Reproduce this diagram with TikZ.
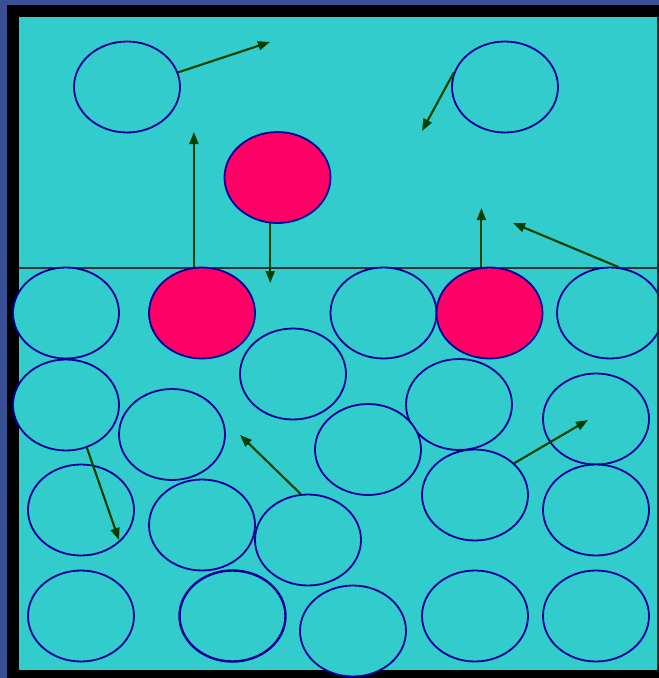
\documentclass[tikz,border=0pt]{standalone}
\usepackage{tikz}
\usetikzlibrary{arrows.meta, shapes.geometric, positioning}

\definecolor{backblue}{RGB}{58,80,148}
\definecolor{liquid}{RGB}{51,204,204}
\definecolor{hotred}{RGB}{255,0,102}
\definecolor{rimblue}{RGB}{0,0,153}
\definecolor{moveg}{RGB}{0,64,0}

\tikzset{
    particle/.style={ellipse, draw=rimblue, line width=1.8pt, fill=liquid,
        minimum width=106pt, minimum height=91pt, inner sep=0pt},
    fastparticle/.style={particle, fill=hotred},
    motion/.style={moveg, line width=2.1pt, -{Triangle[length=12pt,width=9pt]}}
}

\begin{document}
\begin{tikzpicture}[x=1pt, y=-1pt]
    % Background and frame
    \useasboundingbox (0,0) rectangle (659,678);
    \fill[backblue] (0,0) rectangle (659,678);
    \fill[black] (7,5) rectangle (659,678);
    \fill[liquid] (19,17) rectangle (657,670);

    % Surface of the liquid
    \draw[black!80, line width=1.6pt] (19,268) -- (657,268);

    % Particles above the surface
    \node[particle] (top1) at (127,87) {};
    \node[particle] (top2) at (505,87) {};
    \node[fastparticle] (hot1) at (277.5,177.5) {};

    % Particles in the liquid
    \node[particle] (p1) at (66,313) {};
    \node[fastparticle] (hot2) at (202,313) {};
    \node[particle] (p2) at (383.5,313) {};
    \node[fastparticle] (hot3) at (489.5,313) {};
    \node[particle] (p3) at (610,313) {};
    \node[particle] (p4) at (293,374) {};
    \node[particle] (p5) at (66,405) {};
    \node[particle] (p6) at (172,434.5) {};
    \node[particle] (p7) at (459,404.5) {};
    \node[particle] (p8) at (596,419) {};
    \node[particle] (p9) at (368,449.5) {};
    \node[particle] (p10) at (81,510) {};
    \node[particle] (p11) at (202,525) {};
    \node[particle] (p12) at (475,495) {};
    \node[particle] (p13) at (596,510) {};
    \node[particle] (p14) at (308,540) {};
    \node[particle] (p15) at (81,616) {};
    \node[particle, line width=2.4pt] (p16) at (232.5,616) {};
    \node[particle] (p17) at (353,631) {};
    \node[particle] (p18) at (475,616) {};
    \node[particle] (p19) at (596,616) {};

    % Right edge of the frame
    \fill[black!85] (657,17) rectangle (659,670);

    % Ends of the motion arrows
    \coordinate (t1) at (270,42);
    \coordinate (t2) at (194,132);
    \coordinate (t3) at (270,283);
    \coordinate (t4) at (422,131);
    \coordinate (t5) at (482,208);
    \coordinate (t6) at (513,223);
    \coordinate (t7) at (119,540);
    \coordinate (t8) at (240,435);
    \coordinate (t9) at (588,420);

    % Motion arrows
    \draw[motion] (top1.16) -- (t1);
    \draw[motion] (hot2.100) -- (t2 -| hot2.100);
    \draw[motion] (hot1.261) -- (t3 -| hot1.261);
    \draw[motion] (top2.164) -- (t4);
    \draw[motion] (hot3.100) -- (t5 -| hot3.100);
    \draw[motion] (p3.79) -- (t6);
    \draw[motion] (p5.296) -- (t7);
    \draw[motion] (p14.99) -- (t8);
    \draw[motion] (p12.39) -- (t9);
\end{tikzpicture}
\end{document}
